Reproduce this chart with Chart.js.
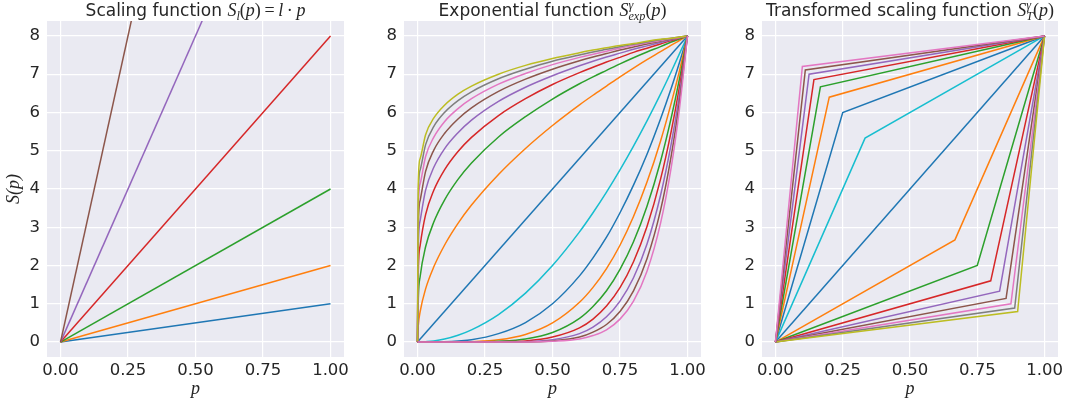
<!DOCTYPE html>
<html>
<head>
<meta charset="utf-8">
<script src="https://cdn.jsdelivr.net/npm/chart.js@4.4.1/dist/chart.umd.min.js"></script>
<style>
  body { margin: 0; background: #fff; width: 1069px; height: 408px; overflow: hidden; position: relative;
         font-family: "DejaVu Sans", sans-serif; color: #262626; }
  canvas { position: absolute; top: 0; }
  .ttl { position: absolute; top: 0; text-align: center; font-size: 17px; line-height: 20px; white-space: nowrap; }
  .m { font-family: "Liberation Serif", serif; font-size: 18px; }
  .sup, .sub { display: inline-block; position: relative; font-size: 0.68em; font-style: italic; }
  .sup { top: -0.6em; width: 0; }
  .sub { top: 0.35em; }
</style>
</head>
<body>
<canvas id="c1" width="350" height="408" style="left:0px"></canvas>
<canvas id="c2" width="347" height="408" style="left:360px"></canvas>
<canvas id="c3" width="349" height="408" style="left:715px"></canvas>

<div class="ttl" style="left:47px;width:297px">Scaling function <span class="m"><i>S</i><span class="sub">l</span>(<i>p</i>)&thinsp;=&thinsp;<i>l</i>&thinsp;·&thinsp;<i>p</i></span></div>
<div class="ttl" style="left:404px;width:297px">Exponential function <span class="m"><i>S</i><span class="sup">γ</span><span class="sub">exp</span>(<i>p</i>)</span></div>
<div class="ttl" style="left:762px;width:296px">Transformed scaling function <span class="m"><i>S</i><span class="sup">γ</span><span class="sub">T</span>(<i>p</i>)</span></div>

<script>
// tick labels
const xTicks = [0, 0.25, 0.5, 0.75, 1];
const yTicks = [0, 1, 2, 3, 4, 5, 6, 7, 8];

// panel 1: straight lines S = l*p
const scaleP = [0, 1];
const scaleFactors = [1, 2, 4, 8, 16, 32];

// panel 2: exponential curves
const expP = [0, 0.003, 0.01, 0.03, 0.06, 0.1, 0.15, 0.2, 0.3, 0.4, 0.5, 0.6, 0.65, 0.7, 0.75, 0.8, 0.85, 0.9, 0.94, 0.97, 1];
const expDiagonal = [0, 8];
const expUpper = [
  [0, 0.44, 0.8, 1.39, 1.96, 2.53, 3.10, 3.58, 4.38, 5.06, 5.66, 6.20, 6.45, 6.69, 6.93, 7.16, 7.38, 7.59, 7.76, 7.88, 8],
  [0, 1.15, 1.72, 2.49, 3.13, 3.71, 4.25, 4.68, 5.36, 5.89, 6.35, 6.75, 6.93, 7.10, 7.27, 7.43, 7.58, 7.72, 7.84, 7.92, 8],
  [0, 1.87, 2.53, 3.33, 3.96, 4.50, 4.98, 5.35, 5.92, 6.36, 6.73, 7.04, 7.18, 7.32, 7.44, 7.57, 7.68, 7.79, 7.88, 7.94, 8],
  [0, 2.50, 3.18, 3.97, 4.56, 5.05, 5.47, 5.80, 6.29, 6.66, 6.96, 7.22, 7.34, 7.45, 7.55, 7.65, 7.74, 7.83, 7.90, 7.95, 8],
  [0, 3.04, 3.71, 4.46, 5.01, 5.45, 5.83, 6.12, 6.55, 6.87, 7.13, 7.35, 7.45, 7.54, 7.63, 7.71, 7.79, 7.86, 7.92, 7.96, 8],
  [0, 3.49, 4.14, 4.85, 5.35, 5.76, 6.10, 6.36, 6.74, 7.02, 7.25, 7.44, 7.52, 7.60, 7.68, 7.75, 7.82, 7.88, 7.93, 7.96, 8],
  [0, 3.87, 4.50, 5.16, 5.63, 6.00, 6.31, 6.54, 6.88, 7.13, 7.34, 7.50, 7.58, 7.65, 7.72, 7.78, 7.84, 7.90, 7.94, 7.97, 8],
  [0, 4.20, 4.80, 5.42, 5.85, 6.19, 6.48, 6.69, 7.00, 7.23, 7.41, 7.56, 7.63, 7.69, 7.75, 7.80, 7.86, 7.91, 7.94, 7.97, 8]
];
const expLower = [
  [0, 0, 0, 0.01, 0.03, 0.08, 0.18, 0.32, 0.72, 1.28, 2.0, 2.88, 3.38, 3.92, 4.5, 5.12, 5.78, 6.48, 7.07, 7.53, 8],
  [0, 0, 0, 0, 0, 0.01, 0.03, 0.06, 0.22, 0.51, 1.0, 1.73, 2.20, 2.74, 3.38, 4.10, 4.91, 5.83, 6.64, 7.30, 8],
  [0, 0, 0, 0, 0, 0, 0, 0.01, 0.06, 0.20, 0.5, 1.04, 1.43, 1.92, 2.53, 3.28, 4.18, 5.25, 6.25, 7.08, 8],
  [0, 0, 0, 0, 0, 0, 0, 0, 0.02, 0.08, 0.25, 0.62, 0.93, 1.34, 1.90, 2.62, 3.55, 4.72, 5.87, 6.87, 8],
  [0, 0, 0, 0, 0, 0, 0, 0, 0.01, 0.03, 0.13, 0.37, 0.60, 0.94, 1.42, 2.10, 3.02, 4.25, 5.52, 6.66, 8],
  [0, 0, 0, 0, 0, 0, 0, 0, 0, 0.01, 0.06, 0.22, 0.39, 0.66, 1.07, 1.68, 2.56, 3.83, 5.19, 6.46, 8],
  [0, 0, 0, 0, 0, 0, 0, 0, 0, 0, 0.03, 0.13, 0.26, 0.46, 0.80, 1.34, 2.18, 3.44, 4.88, 6.27, 8],
  [0, 0, 0, 0, 0, 0, 0, 0, 0, 0, 0.02, 0.08, 0.17, 0.32, 0.60, 1.07, 1.85, 3.10, 4.58, 6.08, 8]
];

// panel 3: piecewise lines through one knee each
const tsLowerKneeP = [0.667, 0.75, 0.8, 0.833, 0.857, 0.875, 0.889, 0.9];
const tsLowerKneeS = [2.67, 2.0, 1.6, 1.33, 1.14, 1.0, 0.89, 0.8];
const tsUpperKneeP = [0.333, 0.25, 0.2, 0.167, 0.143, 0.125, 0.111, 0.1];
const tsUpperKneeS = [5.33, 6.0, 6.4, 6.67, 6.86, 7.0, 7.11, 7.2];

const tab10 = ['#1f77b4', '#ff7f0e', '#2ca02c', '#d62728', '#9467bd',
               '#8c564b', '#e377c2', '#7f7f7f', '#bcbd22', '#17becf'];
const ink = '#262626';

const bgPlugin = {
  id: 'bgArea',
  beforeDraw(chart) {
    const { ctx, chartArea: a } = chart;
    ctx.save();
    ctx.fillStyle = '#eaeaf2';
    ctx.fillRect(a.left, a.top, a.right - a.left, a.bottom - a.top);
    ctx.restore();
  }
};

function zip(xs, ys) {
  return xs.map((x, i) => ({ x: x, y: ys[i] }));
}

function makeChart(id, series, yWidth, padRight, smooth, yTitle) {
  var ds = series.map((pts, i) => ({
    data: pts,
    borderColor: tab10[i % 10],
    borderWidth: 1.5,
    pointRadius: 0,
    fill: false,
    tension: 0,
    cubicInterpolationMode: smooth ? 'monotone' : 'default',
    order: -i
  }));
  return new Chart(document.getElementById(id), {
    type: 'line',
    data: { datasets: ds },
    options: {
      responsive: false,
      animation: false,
      events: [],
      layout: { padding: { top: 21, right: padRight, left: 0, bottom: 0 } },
      plugins: { legend: { display: false }, tooltip: { enabled: false } },
      scales: {
        x: {
          type: 'linear', min: -0.05, max: 1.05,
          afterBuildTicks: (s) => { s.ticks = xTicks.map(v => ({ value: v })); },
          afterFit: (s) => { s.height = 51; s.paddingLeft = 0; s.paddingRight = 0; },
          grid: { color: '#ffffff', lineWidth: 1.2, drawTicks: false },
          border: { display: false },
          ticks: { padding: 4, color: ink, font: { size: 16.5 }, maxRotation: 0, autoSkip: false,
                   callback: (v) => v.toFixed(2) },
          title: { display: true, text: 'p', color: ink,
                   font: { family: 'Liberation Serif', style: 'italic', size: 18 },
                   padding: { top: 0, bottom: 8 } }
        },
        y: {
          type: 'linear', min: -0.39, max: 8.39,
          afterBuildTicks: (s) => { s.ticks = yTicks.map(v => ({ value: v })); },
          afterFit: (s) => { s.width = yWidth; s.paddingTop = 0; s.paddingBottom = 0; },
          grid: { color: '#ffffff', lineWidth: 1.2, drawTicks: false },
          border: { display: false },
          ticks: { padding: 7, color: ink, font: { size: 16.5 }, callback: (v) => String(v) },
          title: { display: !!yTitle, text: yTitle || '', color: ink,
                   font: { family: 'Liberation Serif', style: 'italic', size: 18 },
                   padding: { top: 3, bottom: 0 } }
        }
      }
    },
    plugins: [bgPlugin]
  });
}

Chart.defaults.font.family = '"DejaVu Sans", sans-serif';

// panel 1
var s1 = scaleFactors.map(l => zip(scaleP, [0, l]));
makeChart('c1', s1, 47, 6, false, 'S(p)');

// panel 2
var s2 = [zip(scaleP, expDiagonal)];
expUpper.forEach(row => s2.push(zip(expP, row)));
expLower.forEach(row => s2.push(zip(expP, row)));
makeChart('c2', s2, 44, 6, true, null);

// panel 3
var s3 = [zip(scaleP, expDiagonal)];
for (var i = 0; i < tsLowerKneeP.length; i++) {
  s3.push(zip([0, tsLowerKneeP[i], 1], [0, tsLowerKneeS[i], 8]));
}
for (var i = 0; i < tsUpperKneeP.length; i++) {
  s3.push(zip([0, tsUpperKneeP[i], 1], [0, tsUpperKneeS[i], 8]));
}
makeChart('c3', s3, 47, 6, false, null);
</script>
</body>
</html>
